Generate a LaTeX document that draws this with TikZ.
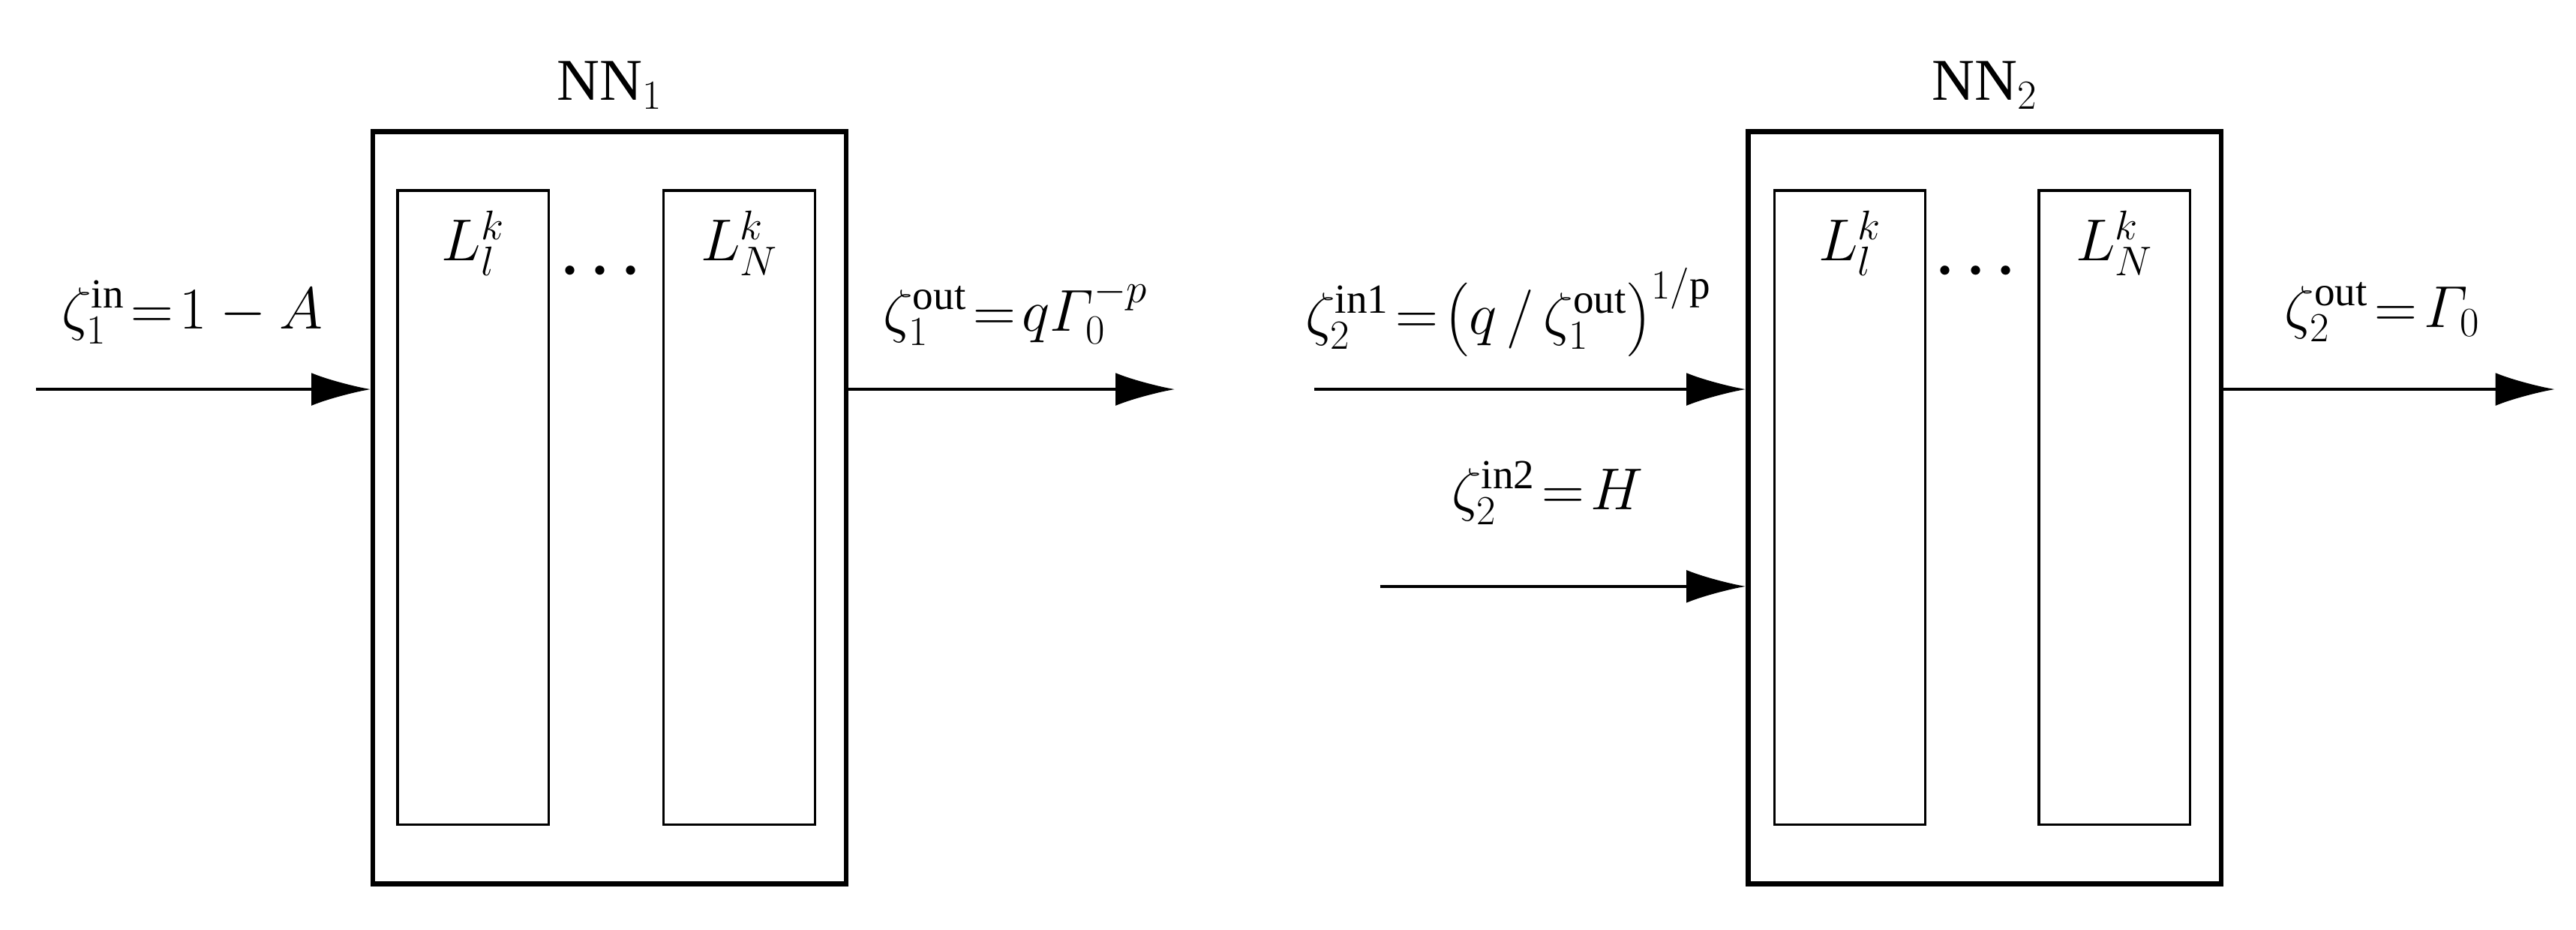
\RequirePackage{fix-cm}
\documentclass[tikz,border=0pt]{standalone}
\usepackage{amsmath}
\usepackage{fontspec}
\setmainfont{Liberation Serif}
\usetikzlibrary{arrows.meta,positioning}
\begin{document}
\begin{tikzpicture}[x=1pt, y=-1pt, >={Latex[length=36pt,width=20pt]},
	bloc/.style={draw, line width=3pt, minimum width=288pt, minimum height=458pt, inner sep=0},
	couche/.style={draw, line width=1.5pt, minimum width=92pt, minimum height=386pt, inner sep=0},
	fleche/.style={->, line width=1.6pt},
	texte/.style={font=\fontsize{36}{40}\selectfont, inner sep=0}]
	\useasboundingbox (0,0) rectangle (1568,566);
	% premier reseau
	\node[bloc] (NA) at (371,309) {};
	\node[texte, above=12pt of NA] {NN$_1$};
	\node[couche] (NAa) at (288,309) {};
	\node[couche] (NAb) at (450,309) {};
	\node[texte, anchor=north] at (288,128) {$L_l^k$};
	\node[texte, anchor=north] at (450,128) {$L_N^k$};
	\node[texte] at (369,165) {$\boldsymbol{\cdots}$};
	\coordinate (ea) at (22,237);
	\coordinate (sa) at (715,237);
	\draw[fleche] (ea) -- (ea -| NA.west);
	\draw[fleche] (sa -| NA.east) -- (sa);
	\node[texte] at (117,190) {$\zeta_1^{\mathrm{in}}\!=\!1-A$};
	\node[texte] at (618,190) {$\zeta_1^{\mathrm{out}}\!=\!q\varGamma_0^{-p}$};
	% second reseau
	\node[bloc] (NB) at (1208,309) {};
	\node[texte, above=12pt of NB] {NN$_2$};
	\node[couche] (NBa) at (1126,309) {};
	\node[couche] (NBb) at (1287,309) {};
	\node[texte, anchor=north] at (1126,128) {$L_l^k$};
	\node[texte, anchor=north] at (1287,128) {$L_N^k$};
	\node[texte] at (1206,165) {$\boldsymbol{\cdots}$};
	\coordinate (eb) at (800,237);
	\coordinate (ec) at (840,357);
	\coordinate (sb) at (1555,237);
	\draw[fleche] (eb) -- (eb -| NB.west);
	\draw[fleche] (ec) -- (ec -| NB.west);
	\draw[fleche] (sb -| NB.east) -- (sb);
	\node[texte] at (918,190) {$\zeta_2^{\mathrm{in1}}\!=\!\bigl(q\,/\,\zeta_1^{\mathrm{out}}\bigr)^{1/\mathrm{p}}$};
	\node[texte] at (942,300) {$\zeta_2^{\mathrm{in2}}\!=\!H$};
	\node[texte] at (1450,190) {$\zeta_2^{\mathrm{out}}\!=\!\varGamma_0$};
\end{tikzpicture}
\end{document}
